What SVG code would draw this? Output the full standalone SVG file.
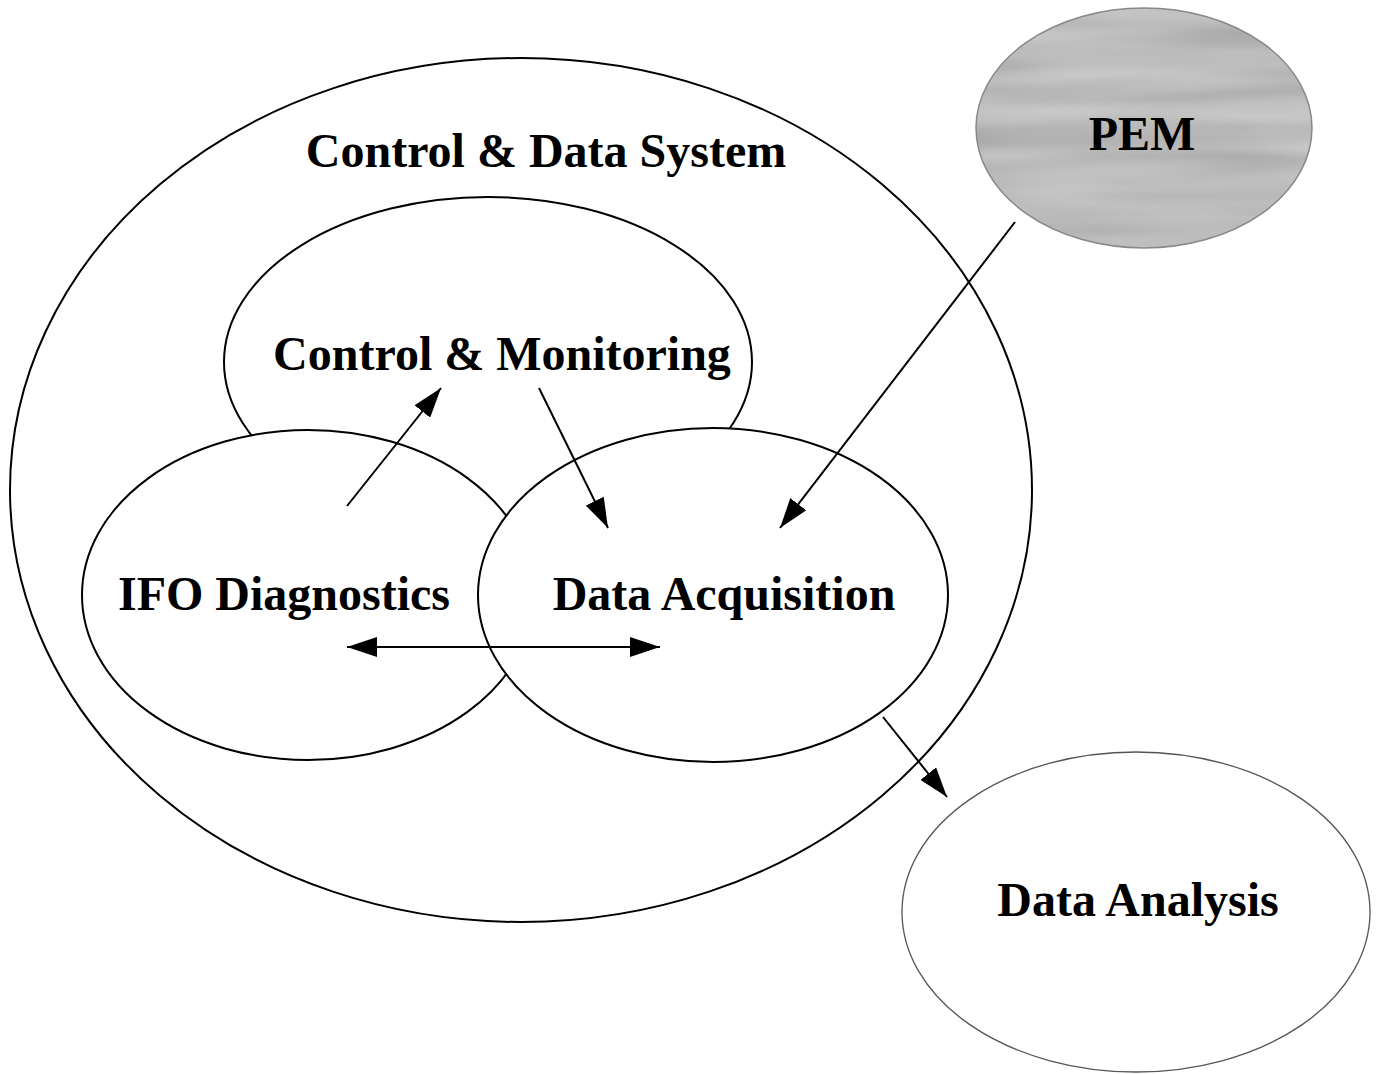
<svg xmlns="http://www.w3.org/2000/svg" width="1377" height="1074" viewBox="0 0 1377 1074">
<style>
.e{fill:#fff;stroke:#000;stroke-width:2}
.t{font-family:"Liberation Serif","Times New Roman",serif;font-weight:bold;font-size:48px;fill:#000;text-anchor:middle}
.c{stroke:#000;stroke-width:2;fill:none}
</style>
<defs>
<marker id="ah" viewBox="0 0 30 20" refX="30" refY="10" markerWidth="30" markerHeight="20" markerUnits="userSpaceOnUse" orient="auto-start-reverse">
<path d="M0,0 L30,10 L0,20 Z" fill="#000"/>
</marker>
<filter id="tex" x="0" y="0" width="1" height="1">
<feTurbulence type="fractalNoise" baseFrequency="0.004 0.04" numOctaves="2" seed="3" result="n"/>
<feColorMatrix in="n" type="matrix" values="0 0 0 0 0  0 0 0 0 0  0 0 0 0 0  0 0 0 -1.2 1.1" result="a"/>
<feFlood flood-color="#a2a2a2" result="f"/>
<feComposite in="f" in2="a" operator="in" result="d"/>
<feFlood flood-color="#cfcfcf" result="b"/>
<feMerge><feMergeNode in="b"/><feMergeNode in="d"/></feMerge>
<feComposite in2="SourceGraphic" operator="in"/>
</filter>
</defs>
<rect width="1377" height="1074" fill="#fff"/>
<g id="control-data-system">
<ellipse class="e" cx="521" cy="490" rx="511" ry="432"/>
<text class="t" x="546" y="167">Control &amp; Data System</text>
</g>
<g id="control-monitoring">
<ellipse class="e" cx="488" cy="362" rx="264" ry="165"/>
<text class="t" x="502" y="370">Control &amp; Monitoring</text>
</g>
<g id="ifo-diagnostics">
<ellipse class="e" cx="308" cy="595" rx="226" ry="165"/>
<text class="t" x="284" y="610">IFO Diagnostics</text>
</g>
<g id="data-acquisition">
<ellipse class="e" cx="713" cy="595" rx="235" ry="167"/>
<text class="t" x="724" y="610">Data Acquisition</text>
</g>
<g id="pem">
<ellipse cx="1144" cy="128" rx="168" ry="120" fill="#b8b8b8" filter="url(#tex)"/>
<ellipse cx="1144" cy="128" rx="168" ry="120" fill="none" stroke="#888" stroke-width="1.5"/>
<text class="t" x="1142" y="150">PEM</text>
</g>
<g id="data-analysis">
<ellipse cx="1136" cy="912" rx="234" ry="160" fill="#fff" stroke="#555" stroke-width="1.3"/>
<text class="t" x="1138" y="916">Data Analysis</text>
</g>
<g id="connectors">
<line class="c" x1="347" y1="506" x2="441" y2="388" marker-end="url(#ah)"/>
<line class="c" x1="539" y1="388" x2="608" y2="528" marker-end="url(#ah)"/>
<line class="c" x1="1015" y1="222" x2="780" y2="528" marker-end="url(#ah)"/>
<line class="c" x1="347" y1="647" x2="660" y2="647" marker-start="url(#ah)" marker-end="url(#ah)"/>
<line class="c" x1="883" y1="717" x2="947" y2="797" marker-end="url(#ah)"/>
</g>
</svg>
